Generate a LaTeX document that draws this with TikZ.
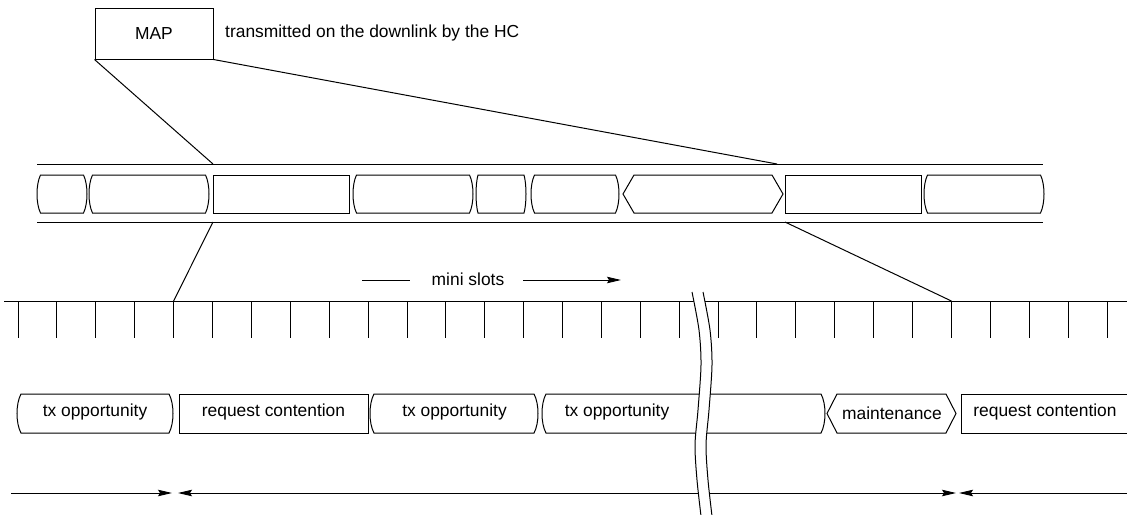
\documentclass[tikz,border=0pt]{standalone}
\usepackage{fontspec}
\setmainfont{Liberation Sans}
\usetikzlibrary{arrows.meta}
\newcommand\convexseg[5]{%
  \draw[seg] (#1+#5,#3) -- (#2-#5,#3)
    .. controls (#2+#5/3,{#3+(#4-#3)/4}) and (#2+#5/3,{#4-(#4-#3)/4}) .. (#2-#5,#4)
    -- (#1+#5,#4)
    .. controls (#1-#5/3,{#4-(#4-#3)/4}) and (#1-#5/3,{#3+(#4-#3)/4}) .. cycle;}
\newcommand\chevseg[5]{%
  \draw[seg] (#1+#5,#3) -- (#2-#5,#3) -- (#2,{(#3+#4)/2}) -- (#2-#5,#4)
    -- (#1+#5,#4) -- (#1,{(#3+#4)/2}) -- cycle;}
\newcommand\rectseg[4]{\draw[seg] (#1,#3) rectangle (#2,#4);}
\tikzset{
  seg/.style={line width=1pt},
  ln/.style={line width=1pt},
  txt/.style={inner sep=0pt, font=\fontsize{17.4}{20}\selectfont},
  tip/.style={-{Stealth[length=14pt,width=6.5pt,inset=2pt]}},
}
\begin{document}
\begin{tikzpicture}[x=1pt,y=-1pt,line join=miter]
\useasboundingbox (0,0) rectangle (1127,514);
\clip (0,0) rectangle (1127,514);
% MAP box and label
\node[draw, line width=1pt, minimum width=118pt, minimum height=51pt, inner sep=0pt,
      font=\fontsize{17.4}{20}\selectfont] (map) at (154,33.5) {MAP};
\node[txt, anchor=west] (maplbl) at (225,33) {transmitted on the downlink by the HC};
% bar
\coordinate (btl) at (37,164); \coordinate (btr) at (1043,164);
\coordinate (bbl) at (37,222); \coordinate (bbr) at (1043,222);
\draw[ln] (btl) -- (btr);
\draw[ln] (bbl) -- (bbr);
\convexseg{37}{87}{175}{213}{3.5}
\convexseg{89}{209}{175}{213}{3.5}
\rectseg{213}{349}{175}{213}
\convexseg{353}{473}{175}{213}{3.5}
\convexseg{476}{526}{175}{213}{2}
\convexseg{531}{619}{175}{213}{3.5}
\chevseg{623}{783}{175}{213}{11}
\rectseg{785}{921.5}{175}{213}
\convexseg{924}{1044}{175}{213}{3.5}
% MAP zoom lines
\coordinate (z1) at (213,164); \coordinate (z2) at (777,164);
\draw[ln] (map.south west) -- (z1);
\draw[ln] (map.south east) -- (z2);
% bar to slots lines
\coordinate (u1) at (213,222); \coordinate (u2) at (785,222);
\coordinate (s1) at (173.6,301); \coordinate (s2) at (951.4,301);
\draw[ln] (u1) -- (s1);
\draw[ln] (u2) -- (s2);
% mini slots
\coordinate (ml1) at (362,280); \coordinate (ml2) at (410,280);
\coordinate (mr1) at (523,280); \coordinate (mr2) at (621,280);
\draw[ln] (ml1) -- (ml2);
\node[txt] (mini) at (468,279) {mini slots};
\draw[ln,tip] (mr1) -- (mr2);
% slot line and ticks
\coordinate (sl) at (4,301); \coordinate (sr) at (1130,301);
\draw[ln] (sl) -- (sr);
\foreach \k in {0,...,17} {\draw[ln] ({18+38.9*\k},301) -- ({18+38.9*\k},338);}
\foreach \k in {0,...,10} {\draw[ln] ({718+38.9*\k},301) -- ({718+38.9*\k},338);}
% bottom segments
\convexseg{17}{173}{394}{433}{4}
\node[txt] (sa) at (95,412) {tx opportunity};
\rectseg{179}{368}{394}{433}
\node[txt] (sb) at (273.5,412) {request contention};
\convexseg{370}{538}{394}{433}{4}
\node[txt] (sc) at (454.5,412) {tx opportunity};
\convexseg{542}{825}{394}{433}{4}
\node[txt] (sd) at (617,412) {tx opportunity};
\chevseg{827}{956}{394}{433}{10}
\node[txt] (se) at (892,413) {maintenance};
\rectseg{961}{1140}{394}{433}
\node[txt] (sf) at (1045,412) {request contention};
% bottom arrows
\coordinate (a1s) at (11,493); \coordinate (a1e) at (172,493);
\coordinate (a2s) at (178,493); \coordinate (a2e) at (956,493);
\coordinate (a3s) at (1130,493); \coordinate (a3e) at (959,493);
\draw[ln,tip] (a1s) -- (a1e);
\draw[ln,{Stealth[length=14pt,width=6.5pt,inset=2pt]}-{Stealth[length=14pt,width=6.5pt,inset=2pt]}] (a2s) -- (a2e);
\draw[ln,tip] (a3s) -- (a3e);
% break
\fill[white] plot[smooth] coordinates {(692,292) (699,330) (701,365) (698,410) (695,445) (697,480) (701,516)}
  -- plot[smooth] coordinates {(712,516) (708,480) (706,445) (709,410) (712,365) (710,330) (703,292)} -- cycle;
\draw[line width=1pt] plot[smooth] coordinates {(692,292) (699,330) (701,365) (698,410) (695,445) (697,480) (701,516)};
\draw[line width=1pt] plot[smooth] coordinates {(703,292) (710,330) (712,365) (709,410) (706,445) (708,480) (712,516)};
\end{tikzpicture}
\end{document}
